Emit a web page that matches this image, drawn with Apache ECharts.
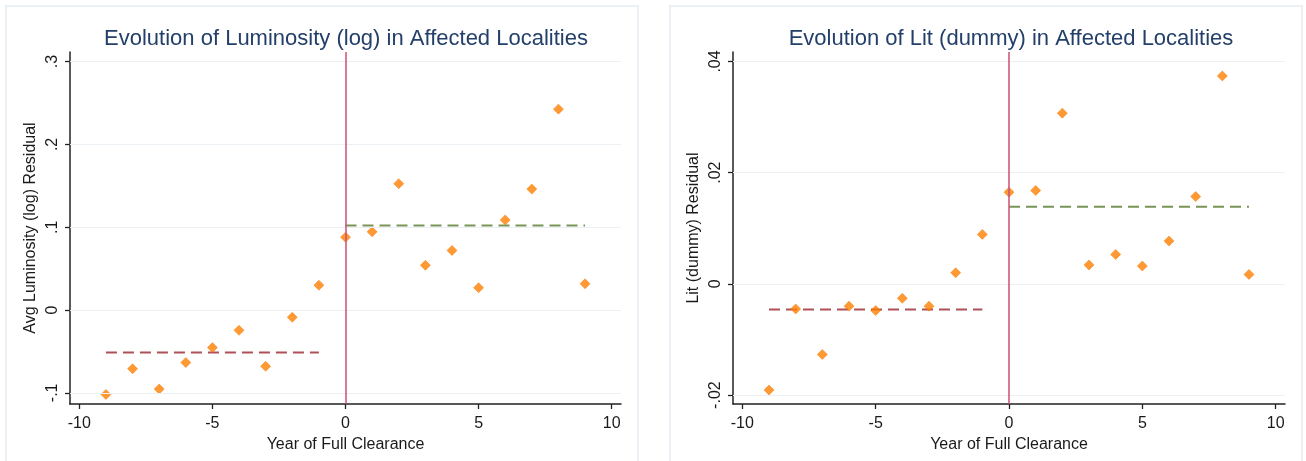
<!DOCTYPE html>
<html>
<head>
<meta charset="utf-8">
<title>Evolution in Affected Localities</title>
<script src="https://cdn.jsdelivr.net/npm/echarts@6/dist/echarts.min.js"></script>
<style>
  html, body { margin: 0; padding: 0; background: #fff; }
  #chart { width: 1306px; height: 461px; }
</style>
</head>
<body>
<div id="chart"></div>
<script type="text/javascript">
// years relative to full clearance
var years = [-9, -8, -7, -6, -5, -4, -3, -2, -1, 0, 1, 2, 3, 4, 5, 6, 7, 8, 9];

// left panel: avg luminosity (log) residual
var lumValues = [-0.102, -0.071, -0.0955, -0.0635, -0.0454, -0.0245, -0.068, -0.0088, 0.030,
                 0.088, 0.0944, 0.1526, 0.054, 0.0719, 0.0269, 0.1088, 0.146, 0.2426, 0.0317];
var lumPreMean = -0.0514;
var lumPostMean = 0.102;

// right panel: lit (dummy) residual
var litValues = [-0.0191, -0.0045, -0.0127, -0.0040, -0.0048, -0.0026, -0.0040, 0.0020, 0.0089,
                 0.0165, 0.0168, 0.0307, 0.0034, 0.0053, 0.0032, 0.0077, 0.0157, 0.0374, 0.0017];
var litPreMean = -0.0046;
var litPostMean = 0.01385;

var xTicks = [-10, -5, 0, 5, 10];
var lumTicks = [-0.1, 0, 0.1, 0.2, 0.3];
var litTicks = [-0.02, 0, 0.02, 0.04];

var chart = echarts.init(document.getElementById('chart'));

function stataNum(v) {
    // Stata style: drop the leading zero (.3, -.02)
    var s = String(Math.round(v * 1000) / 1000);
    return s.replace(/^0\./, '.').replace(/^-0\./, '-.');
}

var font = 'Liberation Sans, Arial, sans-serif';
var orange = '#ff7f00';

function xAxisFor(idx) {
    return {
        type: 'value', gridIndex: idx, min: -10.35, max: 10.35,
        name: 'Year of Full Clearance', nameLocation: 'middle', nameGap: 22,
        nameTextStyle: { color: '#1a1a1a', fontSize: 16, fontFamily: font },
        axisLine: { onZero: false, lineStyle: { color: '#222', width: 1.5 } },
        axisTick: { customValues: xTicks, length: 5, lineStyle: { color: '#222', width: 1.3 } },
        axisLabel: { customValues: xTicks, margin: 12, color: '#1a1a1a', fontSize: 16, fontFamily: font },
        splitLine: { show: false }
    };
}

function yAxisFor(idx, name, min, max, ticks, gap) {
    return {
        type: 'value', gridIndex: idx, min: min, max: max,
        name: name, nameLocation: 'middle', nameGap: gap,
        nameTextStyle: { color: '#1a1a1a', fontSize: 16, fontFamily: font },
        axisLine: { show: true, onZero: false, lineStyle: { color: '#222', width: 1.5 } },
        axisTick: { show: true, customValues: ticks, length: 5, lineStyle: { color: '#222', width: 1.3 } },
        axisLabel: { customValues: ticks, rotate: 90, margin: 9, color: '#1a1a1a', fontSize: 16, fontFamily: font,
                     formatter: stataNum },
        splitLine: { show: false }
    };
}

function gridLines(idx, ticks) {
    return {
        type: 'line', xAxisIndex: idx, yAxisIndex: idx, data: [], z: 0, silent: true,
        markLine: {
            silent: true, symbol: 'none', animation: false, label: { show: false },
            lineStyle: { color: '#eaf0f3', width: 1.2, type: 'solid' },
            data: ticks.map(function (t) { return { yAxis: t }; })
        }
    };
}

function meanLine(idx, from, to, v, color) {
    return {
        type: 'line', xAxisIndex: idx, yAxisIndex: idx, z: 2, silent: true,
        symbol: 'none', animation: false,
        lineStyle: { color: color, width: 2, type: [11, 6] },
        data: [[from, v], [to, v]]
    };
}

function scatter(idx, values) {
    return {
        type: 'scatter', xAxisIndex: idx, yAxisIndex: idx, z: 4,
        symbol: 'diamond', symbolSize: 10,
        itemStyle: { color: orange, borderColor: '#f07800', borderWidth: 0.6 },
        data: years.map(function (y, i) { return [y, values[i]]; }),
        markLine: {
            silent: true, symbol: 'none', animation: false, label: { show: false },
            lineStyle: { color: '#cc4f72', width: 1.5, type: 'solid' },
            data: [{ xAxis: 0 }]
        }
    };
}

var option = {
    backgroundColor: '#fff',
    animation: false,
    graphic: [
        { type: 'rect', shape: { x: 6, y: 6, width: 632, height: 470 }, style: { fill: 'none', stroke: '#e4ecf1', lineWidth: 1.5 }, z: -1 },
        { type: 'rect', shape: { x: 670, y: 6, width: 632, height: 470 }, style: { fill: 'none', stroke: '#e4ecf1', lineWidth: 1.5 }, z: -1 }
    ],
    title: [
        { text: 'Evolution of Luminosity (log) in Affected Localities', left: 341, top: 23, textAlign: 'center',
          textStyle: { color: '#24406a', fontSize: 22, fontWeight: 'normal', fontFamily: font } },
        { text: 'Evolution of Lit (dummy) in Affected Localities', left: 1006, top: 23, textAlign: 'center',
          textStyle: { color: '#24406a', fontSize: 22, fontWeight: 'normal', fontFamily: font } }
    ],
    grid: [
        { left: 70, top: 52, width: 551, height: 352 },
        { left: 733, top: 52, width: 552, height: 352 }
    ],
    xAxis: [xAxisFor(0), xAxisFor(1)],
    yAxis: [
        yAxisFor(0, 'Avg Luminosity (log) Residual', -0.1135, 0.3116, lumTicks, 31),
        yAxisFor(1, 'Lit (dummy) Residual', -0.0216, 0.0417, litTicks, 31)
    ],
    series: [
        gridLines(0, lumTicks),
        gridLines(1, litTicks),
        meanLine(0, -9, -1, lumPreMean, '#ad5058'),
        meanLine(0, 0, 9, lumPostMean, '#7a9457'),
        meanLine(1, -9, -1, litPreMean, '#ad5058'),
        meanLine(1, 0, 9, litPostMean, '#7a9457'),
        scatter(0, lumValues),
        scatter(1, litValues)
    ]
};

chart.setOption(option);
</script>
</body>
</html>
